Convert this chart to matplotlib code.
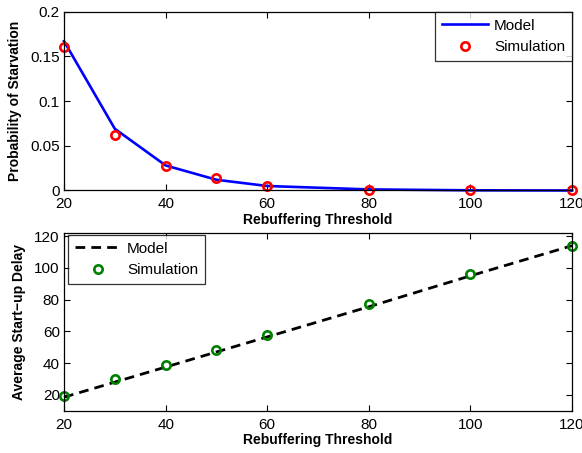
import matplotlib
matplotlib.use("Agg")
import matplotlib.pyplot as plt

plt.rcParams['font.family'] = ['Liberation Sans', 'DejaVu Sans']

thresholds = [20, 30, 40, 50, 60, 80, 100, 120]

starv_model = [0.167, 0.069, 0.028, 0.012, 0.005, 0.0012, 0.0002, 0.0]
starv_sim = [0.161, 0.062, 0.027, 0.014, 0.005, 0.0007, 0.0004, 0.0003]

delay_model = [18.5, 28.0, 37.5, 47.0, 56.5, 75.5, 95.0, 114.0]
delay_sim = [19.5, 30.0, 39.0, 48.0, 57.5, 77.0, 96.0, 114.0]

xticks = [20, 40, 60, 80, 100, 120]

fig = plt.figure(figsize=(5.82, 4.53), dpi=100)
ax1 = fig.add_axes([0.110, 0.5795, 0.8729, 0.3947])
ax2 = fig.add_axes([0.110, 0.0934, 0.8729, 0.3923])

# top: probability of starvation
ax1.plot(thresholds, starv_model, color='blue', lw=1.9, label='Model')
ax1.plot(thresholds, starv_sim, 'o', mfc='none', mec='red', mew=1.9, ms=6,
         label='Simulation')
ax1.set_xlim(20, 120)
ax1.set_ylim(0, 0.2)
ax1.set_xticks(xticks)
ax1.set_yticks([0, 0.05, 0.1, 0.15, 0.2])
ax1.set_yticklabels(['0', '0.05', '0.1', '0.15', '0.2'])
ax1.set_xlabel('Rebuffering Threshold', fontweight='bold', fontsize=10, labelpad=1)
ax1.set_ylabel('Probability of Starvation', fontweight='bold', fontsize=10, labelpad=6)
leg1 = ax1.legend(loc='upper right', fancybox=False, edgecolor='black',
                  fontsize=11, borderaxespad=0, handlelength=3, handletextpad=0.4,
                  borderpad=0.45)
leg1.get_frame().set_linewidth(0.9)

# bottom: start-up delay
ax2.plot(thresholds, delay_model, '--', color='black', lw=2.0, dashes=(3.5, 2.2),
         label='Model')
ax2.plot(thresholds, delay_sim, 'o', mfc='none', mec='green', mew=1.9, ms=6,
         label='Simulation')
ax2.set_xlim(20, 120)
ax2.set_ylim(10, 122)
ax2.set_xticks(xticks)
ax2.set_yticks([20, 40, 60, 80, 100, 120])
ax2.set_xlabel('Rebuffering Threshold', fontweight='bold', fontsize=10, labelpad=1)
ax2.set_ylabel('Average Start\u2212up Delay', fontweight='bold', fontsize=10, labelpad=6)
leg2 = ax2.legend(loc='upper left', bbox_to_anchor=(0.008, 0.99), fancybox=False,
                  edgecolor='black', fontsize=11, borderaxespad=0, handlelength=3,
                  handletextpad=0.4, borderpad=0.45)
leg2.get_frame().set_linewidth(0.9)

for ax in (ax1, ax2):
    ax.tick_params(direction='in', top=True, right=True, labelsize=11, length=4)
    ax.tick_params(axis='x', pad=5)
    ax.tick_params(axis='y', pad=3)
    for sp in ax.spines.values():
        sp.set_linewidth(0.9)
    for m in ax.get_lines():
        m.set_clip_on(False)

fig.savefig('out.png', dpi=100)
